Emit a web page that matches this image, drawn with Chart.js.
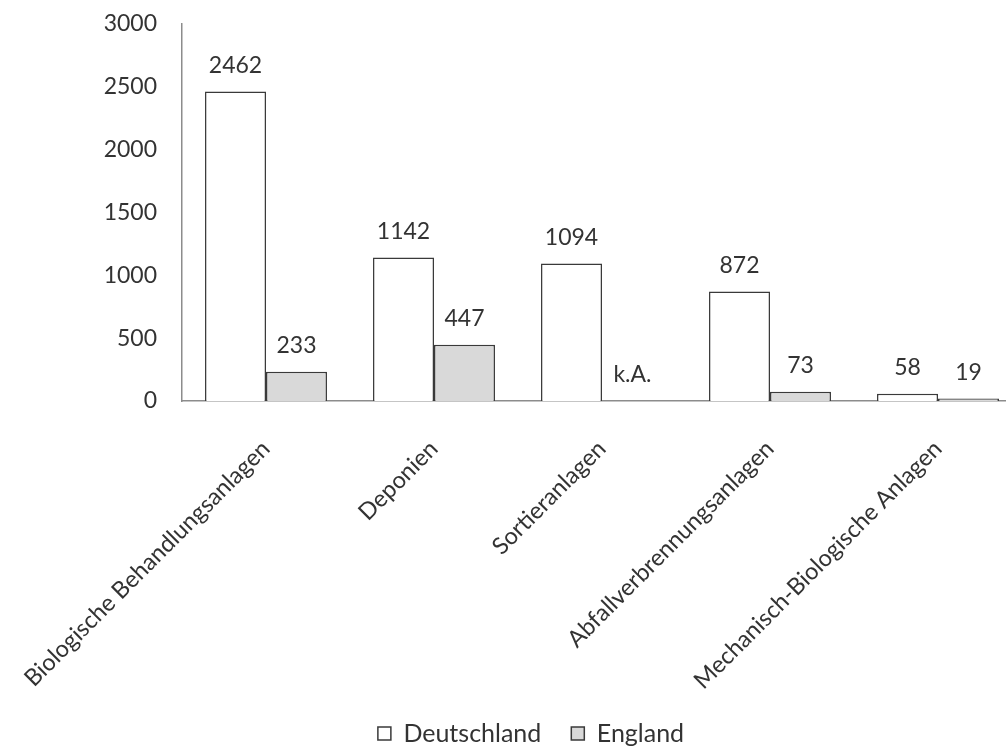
<!DOCTYPE html>
<html>
<head>
<meta charset="utf-8">
<script src="https://cdn.jsdelivr.net/npm/chart.js@4"></script>
<style>
  html, body { margin: 0; padding: 0; background: #fff; overflow: hidden; }
  #wrap { width: 1030px; height: 747px; }
</style>
</head>
<body>
<div id="wrap"><canvas id="chart"></canvas></div>
<script>
// Anlagen je Land
const categories = [
    "Biologische Behandlungsanlagen",
    "Deponien",
    "Sortieranlagen",
    "Abfallverbrennungsanlagen",
    "Mechanisch-Biologische Anlagen"
];
const deutschland = [2462, 1142, 1094, 872, 58];
const england = [233, 447, null, 73, 19];   // null = keine Angabe
const yTicks = [0, 500, 1000, 1500, 2000, 2500, 3000];

const FONT = "Lato, 'Open Sans', sans-serif";
const TEXT = "#333333";

// =========================
// WERTE ÜBER DEN BALKEN
// =========================

const valueLabels = {
    id: "valueLabels",
    afterDatasetsDraw(chart) {
        const ctx = chart.ctx;
        const yScale = chart.scales.y;
        ctx.save();
        ctx.font = "23px " + FONT;
        ctx.fillStyle = TEXT;
        ctx.textAlign = "center";
        ctx.textBaseline = "middle";
        chart.data.datasets.forEach((ds, di) => {
            const meta = chart.getDatasetMeta(di);
            meta.data.forEach((bar, i) => {
                const v = ds.data[i];
                const top = v == null ? yScale.getPixelForValue(0) : bar.y;
                const text = v == null ? "k.A." : String(v);
                ctx.fillText(text, bar.x, top - 26);
            });
        });
        ctx.restore();
    }
};

// feste Ränder, damit die gedrehten Beschriftungen die Fläche nicht verschieben
function noPadding(scale) {
    scale.paddingLeft = 0;
    scale.paddingRight = 0;
    scale.paddingTop = 0;
    scale.paddingBottom = 0;
}

new Chart(document.getElementById("chart"), {
    type: "bar",
    data: {
        labels: categories,
        datasets: [
            {
                label: "Deutschland",
                data: deutschland,
                backgroundColor: "#ffffff",
                borderColor: "#3a3a3a",
                borderWidth: 1.5
            },
            {
                label: "England",
                data: england,
                backgroundColor: "#d9d9d9",
                borderColor: "#3a3a3a",
                borderWidth: 1.5
            }
        ]
    },
    options: {
        responsive: true,
        maintainAspectRatio: false,
        animation: false,
        categoryPercentage: 0.726,
        barPercentage: 1,
        layout: { padding: { top: 24, right: 8, left: 40, bottom: -9 } },
        plugins: {
            tooltip: { enabled: false },
            legend: {
                position: "bottom",
                labels: {
                    font: { family: FONT, size: 25 },
                    color: TEXT,
                    boxWidth: 13,
                    boxHeight: 13,
                    padding: 30
                }
            }
        },
        scales: {
            x: {
                grid: { display: false, drawTicks: false },
                border: { display: true, color: "#8c8c8c", width: 1.5 },
                ticks: {
                    font: { family: FONT, size: 23.5 },
                    color: TEXT,
                    minRotation: 45,
                    maxRotation: 45,
                    padding: 34,
                    autoSkip: false
                },
                afterFit(scale) {
                    scale.height = 290;
                    noPadding(scale);
                }
            },
            y: {
                min: 0,
                max: 3000,
                afterBuildTicks(scale) {
                    scale.ticks = yTicks.map(v => ({ value: v }));
                },
                grid: { display: false, drawTicks: false },
                border: { display: true, color: "#8c8c8c", width: 1.5 },
                ticks: {
                    font: { family: FONT, size: 23 },
                    color: TEXT,
                    padding: 25,
                    callback: v => String(v)
                },
                afterFit(scale) {
                    scale.width = 142;
                    noPadding(scale);
                }
            }
        }
    },
    plugins: [valueLabels]
});
</script>
</body>
</html>
